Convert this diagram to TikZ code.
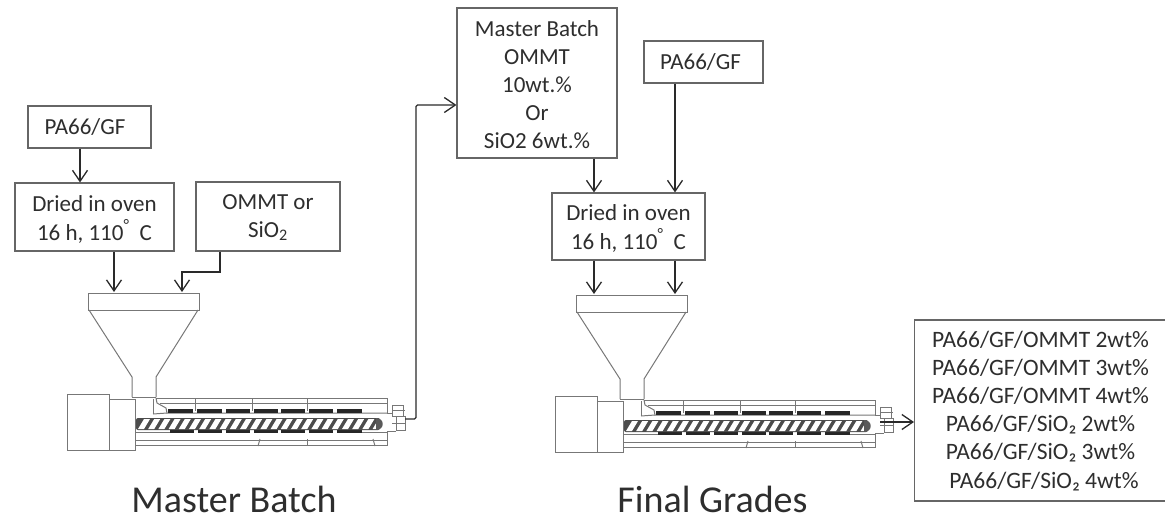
\documentclass[tikz,border=0pt]{standalone}
\usepackage{fontspec}
\setmainfont{Carlito}
\usetikzlibrary{arrows.meta}
\definecolor{txt}{HTML}{2E2E2E}
\definecolor{edge}{HTML}{666666}
\definecolor{ln}{HTML}{2A2A2A}
\definecolor{mach}{HTML}{777777}
\tikzset{
  boxn/.style={draw=edge,line width=1.1pt,fill=white,inner sep=0pt,align=center,text=txt,text depth=4pt,font=\fontsize{23}{28}\selectfont},
  dryfont/.style={font=\fontsize{23}{29}\selectfont},
  arr/.style={draw=ln,line width=1.3pt,-{Straight Barb[length=11pt,width=15pt,line width=1.3pt]}},
  mline/.style={draw=mach,line width=1pt},
  heat/.style={draw=none,fill=black!85},
  title/.style={text=txt,font=\fontsize{38}{44}\selectfont,inner sep=0pt,anchor=base}
}
\newcommand{\extruder}[2]{%
\begin{scope}[shift={(#1,#2)}]
  % hopper
  \draw[mline] (88,293) rectangle (199,310);
  \draw[mline] (89,310) -- (132,377) -- (132,397);
  \draw[mline] (198,310) -- (156,377) -- (156,397);
  % drive
  \draw[mline] (67,394) rectangle (109,450);
  \draw[mline] (109,399) -- (135,399) -- (135,450) -- (109,450);
  \draw[mline] (132,397) -- (156,397);
  \draw[mline] (153,399) -- (153,414);
  % barrel
  \draw[mline] (156,398) -- (387,398) -- (387,413);
  \draw[mline] (160,403) -- (387,403);
  \draw[mline] (156,398) -- (157,403) -- (166,408) -- (167,413) -- (387,413);
  \draw[mline] (153,414) -- (167,413);
  \draw[mline] (135,432) -- (170,432);
  \draw[mline] (362,432) -- (387,432);
  \draw[mline] (135,440) -- (387,440) -- (387,445) -- (135,445);
  \draw[mline] (387,413) -- (392,413);
  \draw[mline] (387,432) -- (387,440);
  % partitions
  \draw[mline] (195,398) -- (195,411);
  \draw[mline] (252,398) -- (252,411);
  \draw[mline] (307,398) -- (307,411);
  \draw[mline] (260,439) -- (258,446);
  \draw[mline] (307,439) -- (307,446);
  \draw[mline] (373,439) -- (375,446);
  % heaters
  \foreach \a/\b in {168/193,197/222,226/250,254/278,281/305,309/333,337/362}
    \fill[heat] (\a,409) rectangle (\b,413);
  \foreach \a/\b in {170/194,198/222,226/250,254/278,281/305,309/333,337/362}
    \fill[heat] (\a,429) rectangle (\b,433);
  % screw
  \fill[black!70,rounded corners=2pt] (136,418) rectangle (380,430);
  \foreach \i in {0,...,23}
    \fill[white] ({138+10.2*\i},429) -- ({144+10.2*\i},429) -- ({150+10.2*\i},419) -- ({144+10.2*\i},419) -- cycle;
  \fill[black!65] (376,418) .. controls (385,418) and (385,430) .. (376,430) -- cycle;
  % die end
  \draw[mline] (392,405) rectangle (403,416);
  \draw[mline] (396,416) rectangle (405,430);
  \draw[mline] (392,410) -- (405,410);
  \draw[mline] (392,423) -- (405,423);
  \draw[mline] (387,431) -- (396,431);
\end{scope}}
\begin{document}
\begin{tikzpicture}[x=1pt,y=-1pt]
\useasboundingbox (0,0) rectangle (1165,517);
\extruder{0}{0}
\extruder{488}{2}
% boxes
\node[boxn,text height=18pt,minimum width=123pt,minimum height=42pt] (pa1) at (89.5,127) {PA66/GF\hspace*{9pt}};
\node[boxn,dryfont,text height=50pt,minimum width=159pt,minimum height=68pt] (dry1) at (94.5,217) {Dried in oven\\16 h, 110\textsuperscript{°}\hspace{5pt} C};
\node[boxn,text height=45pt,minimum width=144pt,minimum height=69pt] (om) at (268,216.5) {OMMT or\\SiO\textsubscript{2}};
\node[boxn,text height=134pt,minimum width=160pt,minimum height=150pt] (mb) at (537,83) {Master Batch\\OMMT\\10wt.\%\\Or\\SiO2 6wt.\%};
\node[boxn,text height=18pt,minimum width=119pt,minimum height=42pt] (pa2) at (703.5,62) {PA66/GF\hspace*{6pt}};
\node[boxn,dryfont,text height=49pt,minimum width=153pt,minimum height=67pt] (dry2) at (628.5,226.5) {Dried in oven\\16 h, 110\textsuperscript{°}\hspace{5pt} C};
\node[boxn,text height=159pt,minimum width=252pt,minimum height=181pt,anchor=west,font=\fontsize{23.5}{28.2}\selectfont] (res) at (914,410.5) {PA66/GF/OMMT 2wt\%\\PA66/GF/OMMT 3wt\%\\PA66/GF/OMMT 4wt\%\\PA66/GF/SiO₂ 2wt\%\\PA66/GF/SiO₂ 3wt\%\\\hspace*{7pt}PA66/GF/SiO₂ 4wt\%};
% titles
\node[title] (t1) at (234,512.5) {Master Batch};
\node[title] (t2) at (712.5,512) {Final Grades};
% connector ends
\coordinate (h1a) at (114,292);
\coordinate (h1b) at (182,292);
\coordinate (h2a) at (594,294);
\coordinate (h2b) at (675,294);
\coordinate (e1) at (405,419);
\coordinate (e2) at (880,422);
% connectors
\draw[arr] (pa1.south -| 80,0) -- (dry1.north -| 80,0);
\draw[arr] (dry1.south -| h1a) -- (h1a);
\draw[arr] (om.south -| 220,0) -- (220,272) -- (182,272) -- (h1b);
\draw[arr,rounded corners=1.5pt] (e1) -- (416,419) -- (416,105) -- (mb.west |- 0,105);
\draw[arr] (mb.south -| h2a) -- (dry2.north -| h2a);
\draw[arr] (pa2.south -| h2b) -- (dry2.north -| h2b);
\draw[arr] (dry2.south -| h2a) -- (h2a);
\draw[arr] (dry2.south -| h2b) -- (h2b);
\draw[arr] (e2) -- (res.west |- e2);
\end{tikzpicture}
\end{document}
